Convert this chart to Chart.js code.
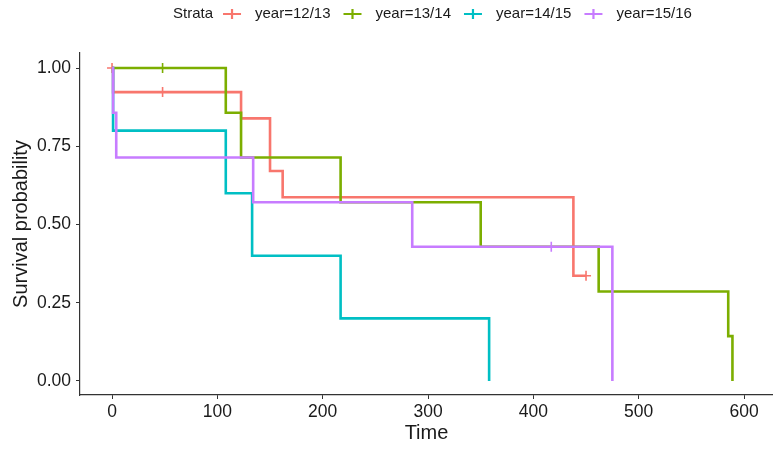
<!DOCTYPE html>
<html>
<head>
<meta charset="utf-8">
<script src="https://cdn.jsdelivr.net/npm/chart.js@4/dist/chart.umd.min.js"></script>
<style>
  html, body { margin: 0; padding: 0; background: #fff; }
  #wrap { width: 773px; height: 450px; }
</style>
</head>
<body>
<div id="wrap"><canvas id="kmChart"></canvas></div>
<script>
// strata names
const strata = ["year=12/13", "year=13/14", "year=14/15", "year=15/16"];

// survival curve steps (time, survival after that time)
const times1213 = [0, 1, 122.5, 150, 162, 438, 450];
const surv1213 = [1, 0.923, 0.839, 0.671, 0.587, 0.336, 0.336];
const times1314 = [0, 108, 122.5, 217, 350, 462, 585, 589];
const surv1314 = [1, 0.857, 0.714, 0.571, 0.429, 0.286, 0.143, 0];
const times1415 = [0, 1, 108, 133, 217, 358];
const surv1415 = [1, 0.8, 0.6, 0.4, 0.2, 0];
const times1516 = [0, 1, 4, 134, 285, 475];
const surv1516 = [1, 0.857, 0.714, 0.571, 0.429, 0];

// censored observations
const censTimes1213 = [0, 48, 450];
const censSurv1213 = [1, 0.923, 0.336];
const censTimes1314 = [48];
const censSurv1314 = [1];
const censTimes1415 = [];
const censSurv1415 = [];
const censTimes1516 = [417];
const censSurv1516 = [0.429];

// axis ticks
const xTicks = [0, 100, 200, 300, 400, 500, 600];
const yTicks = [0, 0.25, 0.5, 0.75, 1];

const colors = ["#F8766D", "#7CAE00", "#00BFC4", "#C77CFF"];
const allTimes = [times1213, times1314, times1415, times1516];
const allSurv = [surv1213, surv1314, surv1415, surv1516];
const allCensT = [censTimes1213, censTimes1314, censTimes1415, censTimes1516];
const allCensS = [censSurv1213, censSurv1314, censSurv1415, censSurv1516];

function pairs(xs, ys) {
  return xs.map((x, i) => ({ x: x, y: ys[i] }));
}

const datasets = [];
strata.forEach((name, i) => {
  datasets.push({
    type: "line",
    label: name,
    data: pairs(allTimes[i], allSurv[i]),
    borderColor: colors[i],
    borderWidth: 2.6,
    stepped: "before", // horizontal first, then drop
    pointRadius: 0,
    fill: false,
    order: 10 - i * 2,
  });
  datasets.push({
    type: "scatter",
    label: name + " censor",
    data: pairs(allCensT[i], allCensS[i]),
    borderColor: colors[i],
    backgroundColor: colors[i],
    pointStyle: "cross",
    pointRadius: 5,
    borderWidth: 1.6,
    order: 9 - i * 2,
  });
});

// legend drawn like ggplot: title then line+cross keys
const legendPlugin = {
  id: "stratLegend",
  afterDraw(chart) {
    const ctx = chart.ctx;
    ctx.save();
    ctx.font = "15px 'Liberation Sans', Arial, sans-serif";
    ctx.textBaseline = "middle";
    ctx.fillStyle = "#1a1a1a";
    const cy = 14;
    let x = 173;
    ctx.fillText("Strata", x, cy);
    x += ctx.measureText("Strata").width + 10;
    strata.forEach((name, i) => {
      ctx.strokeStyle = colors[i];
      ctx.lineWidth = 2.2;
      ctx.beginPath();
      ctx.moveTo(x, cy);
      ctx.lineTo(x + 18, cy);
      ctx.moveTo(x + 9, cy - 5);
      ctx.lineTo(x + 9, cy + 5);
      ctx.stroke();
      x += 18 + 14;
      ctx.fillStyle = "#1a1a1a";
      ctx.fillText(name, x, cy);
      x += ctx.measureText(name).width + 13;
    });
    ctx.restore();
  },
};

new Chart("kmChart", {
  data: { datasets: datasets },
  options: {
    responsive: true,
    maintainAspectRatio: false,
    animation: false,
    layout: { autoPadding: false, padding: { left: 9, top: 53, right: 0, bottom: 0 } },
    plugins: {
      legend: { display: false },
      tooltip: { enabled: false },
    },
    scales: {
      x: {
        type: "linear",
        min: -30.4,
        max: 627.5,
        afterFit(scale) { scale.height = 55; },
        afterBuildTicks(scale) { scale.ticks = xTicks.map(v => ({ value: v })); },
        grid: { drawOnChartArea: false, drawTicks: true, tickLength: 4, color: "#333", lineWidth: 1 },
        border: { display: true, color: "#333", width: 1.2 },
        ticks: {
          color: "#1a1a1a",
          padding: 3,
          maxRotation: 0,
          font: { family: "'Liberation Sans', Arial, sans-serif", size: 17.5 },
        },
        title: {
          display: true,
          text: "Time",
          color: "#1a1a1a",
          padding: { top: 0, bottom: 5 },
          font: { family: "'Liberation Sans', Arial, sans-serif", size: 20 },
        },
      },
      y: {
        type: "linear",
        min: -0.045,
        max: 1.048,
        afterFit(scale) { scale.width = 71; },
        afterBuildTicks(scale) { scale.ticks = yTicks.map(v => ({ value: v })); },
        grid: { drawOnChartArea: false, drawTicks: true, tickLength: 4, color: "#333", lineWidth: 1 },
        border: { display: true, color: "#333", width: 1.2 },
        ticks: {
          color: "#1a1a1a",
          padding: 5,
          callback: v => v.toFixed(2),
          font: { family: "'Liberation Sans', Arial, sans-serif", size: 17.5 },
        },
        title: {
          display: true,
          text: "Survival probability",
          color: "#1a1a1a",
          padding: 0,
          font: { family: "'Liberation Sans', Arial, sans-serif", size: 20 },
        },
      },
    },
  },
  plugins: [legendPlugin],
});
</script>
</body>
</html>
